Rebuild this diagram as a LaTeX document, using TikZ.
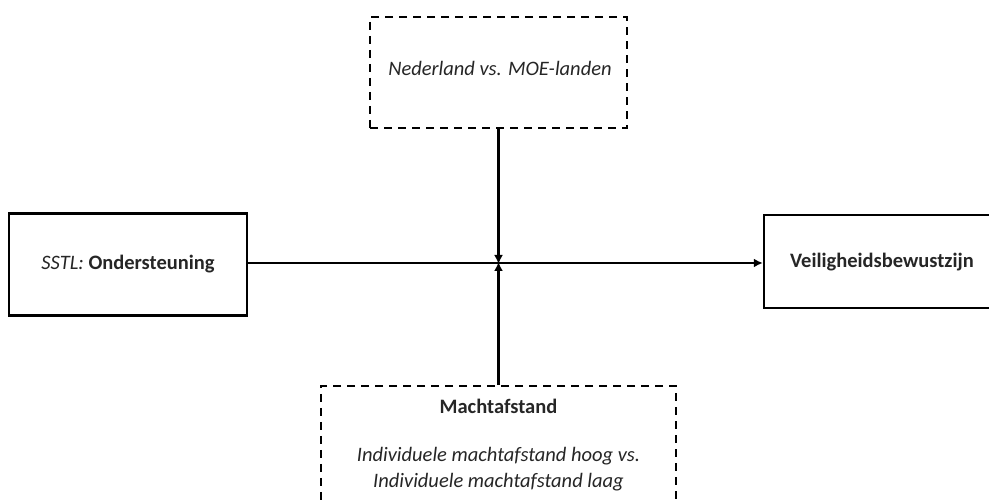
\documentclass[tikz,border=0pt]{standalone}
\usepackage{fontspec}
\setmainfont{Carlito}
\usetikzlibrary{arrows.meta}
\begin{document}
\begin{tikzpicture}[x=1pt,y=-1pt,
  solidbox/.style={draw, line width=2.4pt, rectangle, inner sep=0pt},
  dashbox/.style={draw, line width=2.4pt, dash pattern=on 8pt off 6pt, rectangle, inner sep=0pt},
  conn/.style={line width=2.4pt, -{Latex[length=9pt,width=9pt]}},
  lbl/.style={font=\fontsize{20.5}{26}\selectfont, text=black!85, align=center, inner sep=0pt}]
\clip (0,0) rectangle (989,502);
\fill[white] (0,0) rectangle (989,502);
% boxes
\node[solidbox, minimum width=238pt, minimum height=102pt] (ind) at (128,264.5) {};
\node[solidbox, minimum width=240pt, minimum height=93pt] (dep) at (884,261.5) {};
\node[dashbox, minimum width=257pt, minimum height=111pt] (mod1) at (498.5,72.5) {};
\node[dashbox, minimum width=355pt, minimum height=150pt] (mod2) at (498.5,461) {};
% texts
\node[lbl] (indt) at (128,264) {\textit{SSTL:} \textbf{Ondersteuning}};
\node[lbl] (dept) at (882,262) {\textbf{Veiligheidsbewustzijn}};
\node[lbl] (mod1t) at (500,68) {\textit{Nederland vs. MOE-landen}};
\node[lbl] (mod2a) at (498.5,406) {\textbf{Machtafstand}};
\node[lbl] (mod2b) at (498.5,456) {\textit{Individuele machtafstand hoog vs.}};
\node[lbl] (mod2c) at (498.5,482) {\textit{Individuele machtafstand laag}};
% connectors
\coordinate (mid) at (498.5,263);
\draw[conn] (ind.east |- mid) -- (dep.west |- mid);
\draw[conn] (mod1.south) -- ([yshift=-1pt]mid);
\draw[conn] (mod2.north) -- ([yshift=1pt]mid);
\end{tikzpicture}
\end{document}
